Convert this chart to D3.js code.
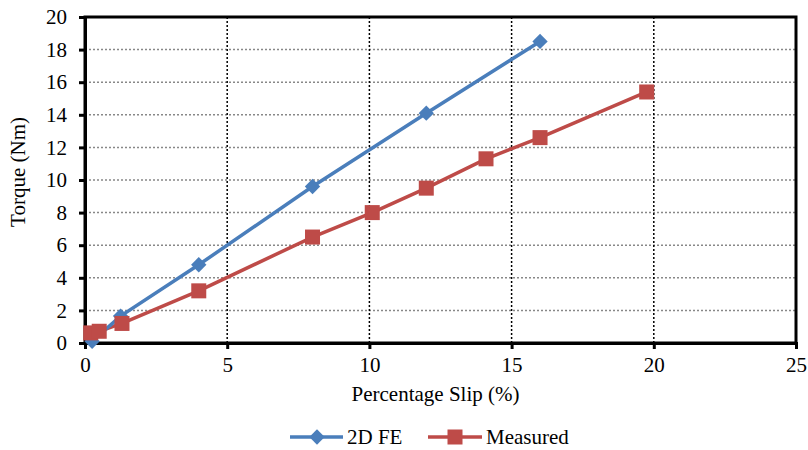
<!DOCTYPE html>
<html>
<head>
<meta charset="utf-8">
<script src="https://cdn.jsdelivr.net/npm/d3@7"></script>
<style>
  body { margin: 0; background: #fff; }
  text { font-family: "Liberation Serif", "Times New Roman", serif; fill: #000; }
</style>
</head>
<body>
<div id="chart"></div>
<script>
// chart data
var feSlip = [0.25, 1.25, 4, 8, 12, 16];
var feTorque = [0.1, 1.65, 4.8, 9.6, 14.1, 18.5];
var measSlip = [0.2, 0.5, 1.3, 4, 8, 10.1, 12, 14.1, 16, 19.75];
var measTorque = [0.62, 0.72, 1.2, 3.2, 6.5, 8.0, 9.5, 11.3, 12.6, 15.4];
var xTicks = [0, 5, 10, 15, 20, 25];
var yTicks = [0, 2, 4, 6, 8, 10, 12, 14, 16, 18, 20];

var svgWidth = 808;
var svgHeight = 450;
var margin = { top: 17, right: 12, bottom: 107, left: 85 };
var width = svgWidth - margin.left - margin.right;
var height = svgHeight - margin.top - margin.bottom;

var fontSize = "21px";
var serif = "Liberation Serif, Times New Roman, serif";

var svg = d3.select("#chart").append("svg")
  .attr("width", svgWidth)
  .attr("height", svgHeight);

var chartGroup = svg.append("g")
  .attr("transform", `translate(${margin.left}, ${margin.top})`);

var x = d3.scaleLinear().domain([0, 25]).range([0, width]);
var y = d3.scaleLinear().domain([0, 20]).range([height, 0]);

// gridlines
chartGroup.selectAll(".hgrid")
  .data(yTicks.slice(1, -1))
  .enter().append("line")
  .attr("x1", 0).attr("x2", width)
  .attr("y1", d => y(d)).attr("y2", d => y(d))
  .attr("stroke", "#888").attr("stroke-width", 1.5)
  .attr("stroke-dasharray", "2,2");

chartGroup.selectAll(".vgrid")
  .data(xTicks.slice(1, -1))
  .enter().append("line")
  .attr("x1", d => x(d)).attr("x2", d => x(d))
  .attr("y1", 0).attr("y2", height)
  .attr("stroke", "#000").attr("stroke-width", 1.5)
  .attr("stroke-dasharray", "2,2");

// frame
chartGroup.append("rect")
  .attr("width", width).attr("height", height)
  .attr("fill", "none").attr("stroke", "#000").attr("stroke-width", 3);

// axes
var bottomAxis = d3.axisBottom(x).tickValues(xTicks).tickSize(6).tickPadding(8);
var leftAxis = d3.axisLeft(y).tickValues(yTicks).tickSize(6).tickPadding(12);

var xAxis = chartGroup.append("g")
  .attr("transform", `translate(0, ${height})`)
  .call(bottomAxis);
var yAxis = chartGroup.append("g").call(leftAxis);

[xAxis, yAxis].forEach(function(a) {
  a.attr("font-family", serif).attr("font-size", fontSize);
  a.select(".domain").attr("stroke-width", 3);
  a.selectAll(".tick line").attr("stroke-width", 3);
  a.selectAll("text").style("font-size", fontSize).style("font-family", serif);
});

// axis titles
chartGroup.append("text")
  .attr("x", width / 2 - 5)
  .attr("y", height + 58)
  .attr("text-anchor", "middle")
  .style("font-size", fontSize)
  .text("Percentage Slip (%)");

chartGroup.append("text")
  .attr("transform", "rotate(-90)")
  .attr("x", -height / 2 + 8)
  .attr("y", -margin.left + 25)
  .attr("text-anchor", "middle")
  .style("font-size", fontSize)
  .text("Torque (Nm)");

var blue = "#4a7ebb";
var red = "#be4b48";

var line = d3.line().x(d => x(d[0])).y(d => y(d[1]));

var feData = feSlip.map((s, i) => [s, feTorque[i]]);
var measData = measSlip.map((s, i) => [s, measTorque[i]]);

// measured series
chartGroup.append("path")
  .datum(measData)
  .attr("d", line)
  .attr("fill", "none").attr("stroke", red).attr("stroke-width", 3.5);

// FE series
chartGroup.append("path")
  .datum(feData)
  .attr("d", line)
  .attr("fill", "none").attr("stroke", blue).attr("stroke-width", 3.5);

var diamond = d3.symbol().type(d3.symbolDiamond2).size(150);

chartGroup.selectAll(".fe")
  .data(feData)
  .enter().append("path")
  .attr("transform", d => `translate(${x(d[0])}, ${y(d[1])})`)
  .attr("d", diamond)
  .attr("fill", blue);

chartGroup.selectAll(".meas")
  .data(measData)
  .enter().append("rect")
  .attr("x", d => x(d[0]) - 7.5)
  .attr("y", d => y(d[1]) - 7.5)
  .attr("width", 15).attr("height", 15)
  .attr("fill", red);

// legend
var legend = svg.append("g").attr("transform", "translate(0, 437)");

legend.append("line")
  .attr("x1", 290).attr("x2", 343).attr("y1", 0).attr("y2", 0)
  .attr("stroke", blue).attr("stroke-width", 3.5);
legend.append("path")
  .attr("transform", "translate(317, 0)")
  .attr("d", diamond)
  .attr("fill", blue);
legend.append("text")
  .attr("x", 347).attr("y", 7)
  .style("font-size", fontSize)
  .text("2D FE");

legend.append("line")
  .attr("x1", 428).attr("x2", 482).attr("y1", 0).attr("y2", 0)
  .attr("stroke", red).attr("stroke-width", 3.5);
legend.append("rect")
  .attr("x", 447.5).attr("y", -7.5).attr("width", 15).attr("height", 15)
  .attr("fill", red);
legend.append("text")
  .attr("x", 486).attr("y", 7)
  .style("font-size", fontSize)
  .text("Measured");
</script>
</body>
</html>
